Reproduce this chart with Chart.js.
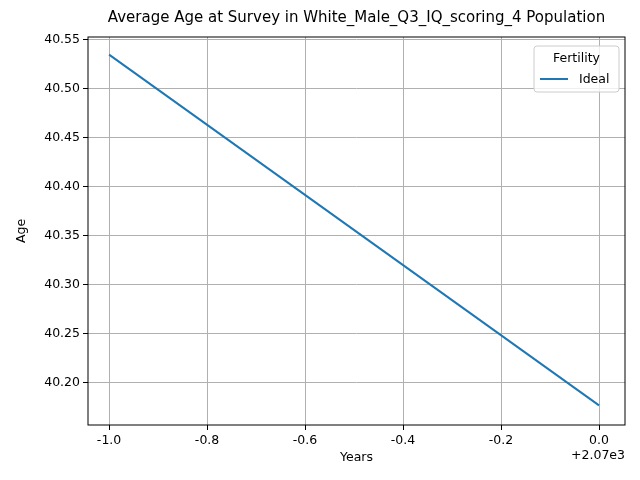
<!DOCTYPE html>
<html>
<head>
<meta charset="utf-8">
<script src="https://cdn.jsdelivr.net/npm/chart.js@4"></script>
<style>body{margin:0;background:#fff}#wrap{width:640px;height:480px}</style>
</head>
<body>
<div id="wrap"><canvas id="c"></canvas></div>
<script>
const years = [2069, 2070];
const idealAge = [40.535, 40.177];
const seriesName = 'Ideal';
const legendTitle = 'Fertility';
const chartTitle = 'Average Age at Survey in White_Male_Q3_IQ_scoring_4 Population';
const xTitle = 'Years';
const yTitle = 'Age';
const FONT = 'DejaVu Sans';

const overlay = {
  id: 'overlay',
  afterDraw(chart) {
    const { ctx, chartArea: a } = chart;
    ctx.save();
    ctx.strokeStyle = '#000';
    ctx.lineWidth = 1;
    ctx.strokeRect(a.left, a.top, a.right - a.left, a.bottom - a.top);
    ctx.fillStyle = '#000';
    ctx.font = '15px ' + FONT;
    ctx.textAlign = 'center';
    ctx.textBaseline = 'middle';
    ctx.fillText(chartTitle, (a.left + a.right) / 2, 18);
    ctx.font = '12.5px ' + FONT;
    ctx.fillText(xTitle, (a.left + a.right) / 2, 458);
    ctx.save();
    ctx.translate(22, (a.top + a.bottom) / 2);
    ctx.rotate(-Math.PI / 2);
    ctx.fillText(yTitle, 0, 0);
    ctx.restore();
    ctx.textAlign = 'right';
    ctx.fillText('+2.07e3', a.right, 456);
    // legend
    const w = 85, h = 46, x = a.right - w - 6, y = a.top + 9;
    ctx.fillStyle = 'rgba(255,255,255,0.8)';
    ctx.strokeStyle = '#ccc';
    ctx.lineWidth = 1;
    ctx.beginPath();
    ctx.roundRect(x, y, w, h, 3);
    ctx.fill(); ctx.stroke();
    ctx.fillStyle = '#000';
    ctx.textAlign = 'center';
    ctx.fillText(legendTitle, x + w / 2, y + 13);
    ctx.strokeStyle = chart.data.datasets[0].borderColor;
    ctx.lineWidth = 2;
    ctx.beginPath(); ctx.moveTo(x + 6, y + 33); ctx.lineTo(x + 34, y + 33); ctx.stroke();
    ctx.textAlign = 'left';
    ctx.fillText(chart.data.datasets[0].label, x + 45, y + 34);
    ctx.restore();
  }
};

new Chart(document.getElementById('c'), {
  type: 'line',
  data: {
    datasets: [{
      label: seriesName,
      data: years.map((x, i) => ({ x, y: idealAge[i] })),
      borderColor: '#1f77b4',
      borderWidth: 2,
      pointRadius: 0,
      tension: 0,
    }],
  },
  options: {
    animation: false,
    responsive: true,
    maintainAspectRatio: false,
    layout: { padding: { top: 37, right: 15, left: 0, bottom: 0 } },
    plugins: { legend: { display: false }, tooltip: { enabled: false } },
    scales: {
      x: {
        type: 'linear',
        min: 2070 - 1.043,
        max: 2070.053,
        afterBuildTicks: (s) => { s.ticks = [-1, -0.8, -0.6, -0.4, -0.2, 0].map((v) => ({ value: 2070 + v })); },
        afterFit: (s) => { s.height = 55; },
        ticks: { color: '#000', font: { family: FONT, size: 12.5 }, maxRotation: 0,
          callback: (v) => (Math.round((v - 2070) * 10) / 10).toFixed(1) },
        grid: { color: '#b0b0b0', tickColor: '#000', tickLength: 5 },
        border: { display: false },
      },
      y: {
        min: 40.157,
        max: 40.553,
        afterBuildTicks: (s) => { s.ticks = [40.2, 40.25, 40.3, 40.35, 40.4, 40.45, 40.5, 40.55].map((v) => ({ value: v })); },
        afterFit: (s) => { s.width = 88; },
        ticks: { color: '#000', font: { family: FONT, size: 12.5 }, callback: (v) => v.toFixed(2) },
        grid: { color: '#b0b0b0', tickColor: '#000', tickLength: 5 },
        border: { display: false },
      },
    },
  },
  plugins: [overlay],
});
</script>
</body>
</html>
